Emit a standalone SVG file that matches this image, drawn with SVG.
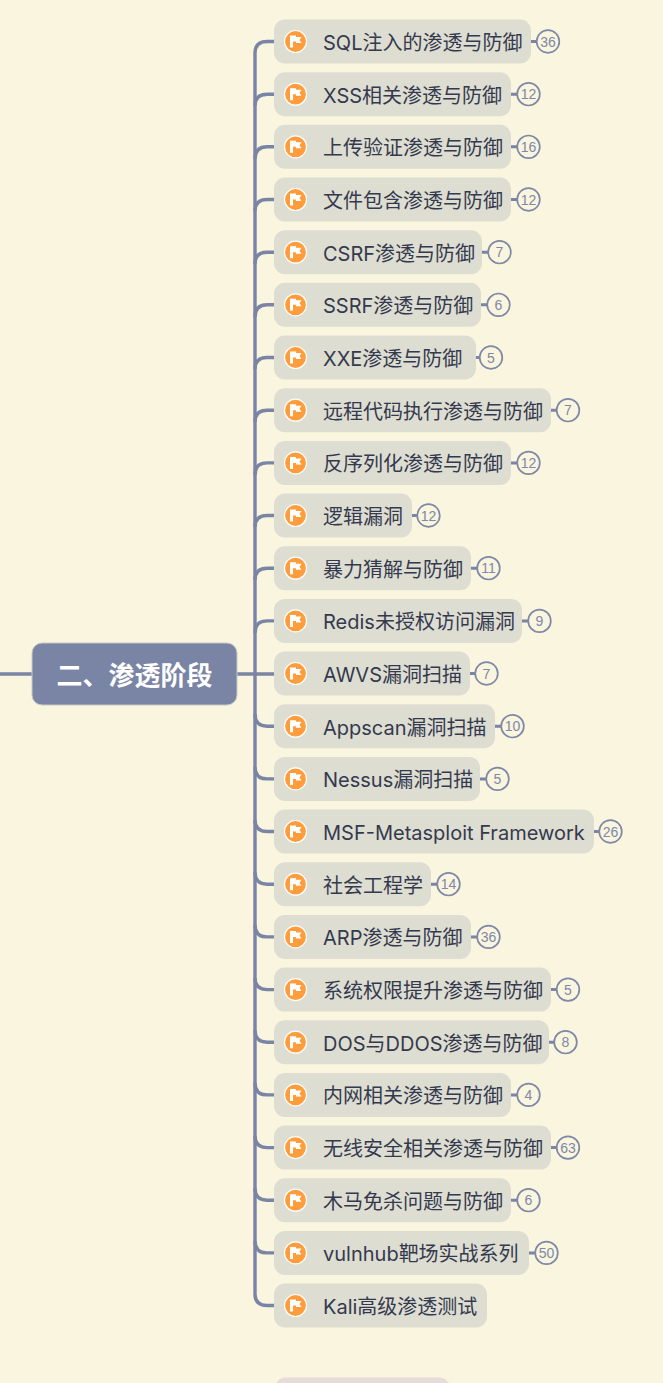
<svg xmlns="http://www.w3.org/2000/svg" width="663" height="1383" viewBox="0 0 663 1383">
<style>
.bg{fill:#f9f5df}
.box{fill:#deddd2}
.t{font-family:"Inter","Noto Sans CJK SC",sans-serif;font-size:20px;fill:#343a4e}
.c{fill:none;stroke:#7a84a4;stroke-width:3.4}
.d{fill:none;stroke:#7a84a4;stroke-width:3}
.b{fill:#f9f5df;stroke:#7f88a6;stroke-width:1.7}
.n{font-family:"Liberation Sans",Arial,sans-serif;font-size:14px;fill:#7f88a6;text-anchor:middle}
.root{fill:#7a84a4;stroke:#c9c9c4;stroke-width:1}
.rt{font-family:"Noto Sans CJK SC",sans-serif;font-size:26px;font-weight:700;fill:#fff}
</style>
<defs>
<g id="flag">
<circle r="11" fill="#ff9d3c" stroke="#fff" stroke-width="1.2"/>
<path d="M-5.5 -6H0.5V-4.5H6L4 -1.5L6 1.5H0.5V0H-2.5V6H-5.5Z" fill="#fff"/>
</g>
</defs>
<rect class="bg" width="663" height="1383"/>
<g id="connectors">
<path class="c" d="M0 674H32M237 674H274"/>
<path class="c" d="M274 41.5H267Q255 41.5 255 53V1294Q255 1305.5 267 1305.5H274"/>
<path class="c" d="M274 94.2H267Q255 94.2 255 106"/>
<path class="c" d="M274 146.8H267Q255 146.8 255 159"/>
<path class="c" d="M274 199.5H267Q255 199.5 255 211"/>
<path class="c" d="M274 252.2H267Q255 252.2 255 264"/>
<path class="c" d="M274 304.8H267Q255 304.8 255 317"/>
<path class="c" d="M274 357.5H267Q255 357.5 255 369"/>
<path class="c" d="M274 410.2H267Q255 410.2 255 422"/>
<path class="c" d="M274 462.9H267Q255 462.9 255 475"/>
<path class="c" d="M274 515.5H267Q255 515.5 255 527"/>
<path class="c" d="M274 568.2H267Q255 568.2 255 580"/>
<path class="c" d="M274 620.9H267Q255 620.9 255 633"/>
<path class="c" d="M274 726.2H267Q255 726.2 255 714"/>
<path class="c" d="M274 778.9H267Q255 778.9 255 767"/>
<path class="c" d="M274 831.5H267Q255 831.5 255 820"/>
<path class="c" d="M274 884.2H267Q255 884.2 255 872"/>
<path class="c" d="M274 936.9H267Q255 936.9 255 925"/>
<path class="c" d="M274 989.6H267Q255 989.6 255 978"/>
<path class="c" d="M274 1042.2H267Q255 1042.2 255 1030"/>
<path class="c" d="M274 1094.9H267Q255 1094.9 255 1083"/>
<path class="c" d="M274 1147.6H267Q255 1147.6 255 1136"/>
<path class="c" d="M274 1200.2H267Q255 1200.2 255 1188"/>
<path class="c" d="M274 1252.9H267Q255 1252.9 255 1241"/>
<path class="d" d="M531 41.5H537M511 94.2H517M511 146.8H517M511 199.5H517M482 252.2H488M481 304.8H487M476 357.5H480M551 410.2H557M511 462.9H517M412 515.5H417M471 568.2H477M522 620.9H528M470 673.5H475M495 726.2H501M480 778.9H486M594 831.5H599M431 884.2H437M471 936.9H477M551 989.6H557M549 1042.2H554M511 1094.9H517M551 1147.6H557M511 1200.2H517M529 1252.9H535"/>
</g>
<g id="root"><rect class="root" x="32" y="643" width="205" height="62" rx="10"/><text class="rt" x="56.5" y="685">二、渗透阶段</text></g>
<g id="n1"><rect class="box" x="274" y="19.5" width="257" height="44" rx="11"/><use href="#flag" x="295.5" y="41.5"/><text class="t" x="323" y="50">SQL注入的渗透与防御</text><circle class="b" cx="548" cy="41.5" r="11.3"/><text class="n" x="548" y="46.5">36</text></g>
<g id="n2"><rect class="box" x="274" y="72.2" width="237" height="44" rx="11"/><use href="#flag" x="295.5" y="94.2"/><text class="t" x="323" y="102.7">XSS相关渗透与防御</text><circle class="b" cx="528.500" cy="94.2" r="11.3"/><text class="n" x="528.500" y="99.2">12</text></g>
<g id="n3"><rect class="box" x="274" y="124.8" width="237" height="44" rx="11"/><use href="#flag" x="295.5" y="146.8"/><text class="t" x="323" y="155.3">上传验证渗透与防御</text><circle class="b" cx="528.500" cy="146.8" r="11.3"/><text class="n" x="528.500" y="151.8">16</text></g>
<g id="n4"><rect class="box" x="274" y="177.5" width="237" height="44" rx="11"/><use href="#flag" x="295.5" y="199.5"/><text class="t" x="323" y="208">文件包含渗透与防御</text><circle class="b" cx="528.500" cy="199.5" r="11.3"/><text class="n" x="528.500" y="204.5">12</text></g>
<g id="n5"><rect class="box" x="274" y="230.2" width="208" height="44" rx="11"/><use href="#flag" x="295.5" y="252.2"/><text class="t" x="323" y="260.7">CSRF渗透与防御</text><circle class="b" cx="499.500" cy="252.2" r="11.3"/><text class="n" x="499.500" y="257.2">7</text></g>
<g id="n6"><rect class="box" x="274" y="282.8" width="207" height="44" rx="11"/><use href="#flag" x="295.5" y="304.8"/><text class="t" x="323" y="313.3">SSRF渗透与防御</text><circle class="b" cx="498.500" cy="304.8" r="11.3"/><text class="n" x="498.500" y="309.8">6</text></g>
<g id="n7"><rect class="box" x="274" y="335.5" width="202" height="44" rx="11"/><use href="#flag" x="295.5" y="357.5"/><text class="t" x="323" y="366">XXE渗透与防御</text><circle class="b" cx="491" cy="357.5" r="11.3"/><text class="n" x="491" y="362.5">5</text></g>
<g id="n8"><rect class="box" x="274" y="388.2" width="277" height="44" rx="11"/><use href="#flag" x="295.5" y="410.2"/><text class="t" x="323" y="418.7">远程代码执行渗透与防御</text><circle class="b" cx="568" cy="410.2" r="11.3"/><text class="n" x="568" y="415.2">7</text></g>
<g id="n9"><rect class="box" x="274" y="440.9" width="237" height="44" rx="11"/><use href="#flag" x="295.5" y="462.9"/><text class="t" x="323" y="471.4">反序列化渗透与防御</text><circle class="b" cx="528.500" cy="462.9" r="11.3"/><text class="n" x="528.500" y="467.9">12</text></g>
<g id="n10"><rect class="box" x="274" y="493.5" width="138" height="44" rx="11"/><use href="#flag" x="295.5" y="515.500"/><text class="t" x="323" y="524">逻辑漏洞</text><circle class="b" cx="428.500" cy="515.5" r="11.3"/><text class="n" x="428.500" y="520.500">12</text></g>
<g id="n11"><rect class="box" x="274" y="546.2" width="197" height="44" rx="11"/><use href="#flag" x="295.5" y="568.2"/><text class="t" x="323" y="576.7">暴力猜解与防御</text><circle class="b" cx="488.500" cy="568.2" r="11.3"/><text class="n" x="488.500" y="573.2">11</text></g>
<g id="n12"><rect class="box" x="274" y="598.9" width="248" height="44" rx="11"/><use href="#flag" x="295.5" y="620.9"/><text class="t" x="323" y="629.4">Redis未授权访问漏洞</text><circle class="b" cx="539.500" cy="620.9" r="11.3"/><text class="n" x="539.500" y="625.9">9</text></g>
<g id="n13"><rect class="box" x="274" y="651.5" width="196" height="44" rx="11"/><use href="#flag" x="295.5" y="673.5"/><text class="t" x="323" y="682">AWVS漏洞扫描</text><circle class="b" cx="486.500" cy="673.5" r="11.3"/><text class="n" x="486.500" y="678.500">7</text></g>
<g id="n14"><rect class="box" x="274" y="704.2" width="221" height="44" rx="11"/><use href="#flag" x="295.5" y="726.2"/><text class="t" x="323" y="734.7">Appscan漏洞扫描</text><circle class="b" cx="512.500" cy="726.2" r="11.3"/><text class="n" x="512.500" y="731.2">10</text></g>
<g id="n15"><rect class="box" x="274" y="756.9" width="206" height="44" rx="11"/><use href="#flag" x="295.5" y="778.9"/><text class="t" x="323" y="787.4">Nessus漏洞扫描</text><circle class="b" cx="497.500" cy="778.9" r="11.3"/><text class="n" x="497.500" y="783.9">5</text></g>
<g id="n16"><rect class="box" x="274" y="809.5" width="320" height="44" rx="11"/><use href="#flag" x="295.5" y="831.5"/><text class="t" x="323" y="840">MSF-Metasploit Framework</text><circle class="b" cx="610.500" cy="831.5" r="11.3"/><text class="n" x="610.500" y="836.500">26</text></g>
<g id="n17"><rect class="box" x="274" y="862.2" width="157" height="44" rx="11"/><use href="#flag" x="295.5" y="884.2"/><text class="t" x="323" y="892.7">社会工程学</text><circle class="b" cx="448.500" cy="884.2" r="11.3"/><text class="n" x="448.500" y="889.2">14</text></g>
<g id="n18"><rect class="box" x="274" y="914.9" width="197" height="44" rx="11"/><use href="#flag" x="295.5" y="936.9"/><text class="t" x="323" y="945.4">ARP渗透与防御</text><circle class="b" cx="488.500" cy="936.9" r="11.3"/><text class="n" x="488.500" y="941.9">36</text></g>
<g id="n19"><rect class="box" x="274" y="967.6" width="277" height="44" rx="11"/><use href="#flag" x="295.5" y="989.6"/><text class="t" x="323" y="998.1">系统权限提升渗透与防御</text><circle class="b" cx="568" cy="989.6" r="11.3"/><text class="n" x="568" y="994.6">5</text></g>
<g id="n20"><rect class="box" x="274" y="1020.2" width="275" height="44" rx="11"/><use href="#flag" x="295.5" y="1042.2"/><text class="t" x="323" y="1050.7">DOS与DDOS渗透与防御</text><circle class="b" cx="565.500" cy="1042.2" r="11.3"/><text class="n" x="565.500" y="1047.2">8</text></g>
<g id="n21"><rect class="box" x="274" y="1072.9" width="237" height="44" rx="11"/><use href="#flag" x="295.5" y="1094.9"/><text class="t" x="323" y="1103.4">内网相关渗透与防御</text><circle class="b" cx="528.500" cy="1094.9" r="11.3"/><text class="n" x="528.500" y="1099.9">4</text></g>
<g id="n22"><rect class="box" x="274" y="1125.6" width="277" height="44" rx="11"/><use href="#flag" x="295.5" y="1147.6"/><text class="t" x="323" y="1156.1">无线安全相关渗透与防御</text><circle class="b" cx="568" cy="1147.6" r="11.3"/><text class="n" x="568" y="1152.6">63</text></g>
<g id="n23"><rect class="box" x="274" y="1178.2" width="237" height="44" rx="11"/><use href="#flag" x="295.5" y="1200.2"/><text class="t" x="323" y="1208.7">木马免杀问题与防御</text><circle class="b" cx="528.500" cy="1200.2" r="11.3"/><text class="n" x="528.500" y="1205.2">6</text></g>
<g id="n24"><rect class="box" x="274" y="1230.9" width="255" height="44" rx="11"/><use href="#flag" x="295.5" y="1252.9"/><text class="t" x="323" y="1261.4">vulnhub靶场实战系列</text><circle class="b" cx="546.500" cy="1252.9" r="11.3"/><text class="n" x="546.500" y="1257.9">50</text></g>
<g id="n25"><rect class="box" x="274" y="1283.5" width="213" height="44" rx="11"/><use href="#flag" x="295.5" y="1305.5"/><text class="t" x="323" y="1314">Kali高级渗透测试</text></g>
<g id="n26"><rect x="275" y="1377.500" width="175" height="30" rx="11" fill="#e8dcd8"/></g>
</svg>
